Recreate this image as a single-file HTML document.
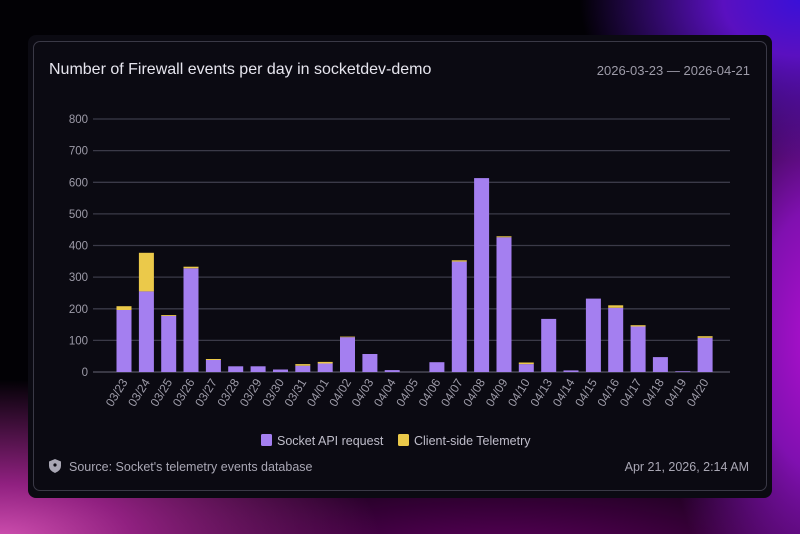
<!DOCTYPE html>
<html><head><meta charset="utf-8"><style>
html,body{margin:0;padding:0;}
body{width:800px;height:534px;overflow:hidden;position:relative;font-family:"Liberation Sans",sans-serif;
background:
radial-gradient(ellipse 220px 160px at 800px 0px,#3a10d8 0%,#5a10c0 35%,rgba(80,0,160,0) 100%),
radial-gradient(ellipse 160px 330px at 820px 340px,#b010d0 0%,#8010b0 40%,rgba(100,0,150,0) 100%),
radial-gradient(ellipse 380px 160px at 0px 540px,#d050b0 0%,#902080 35%,rgba(60,0,60,0) 100%),
radial-gradient(ellipse 500px 120px at 500px 560px,#600060 0%,rgba(40,0,40,0) 100%),
#020105;}
.card{position:absolute;left:28px;top:35px;width:744px;height:463px;background:#0b0a12;border-radius:8px;}
.inner{position:absolute;left:33px;top:41px;width:734px;height:450px;border:1.5px solid #3a3946;border-radius:7px;box-sizing:border-box;}
.t{position:absolute;color:#e6e5ee;}
</style></head><body>
<div class="card"></div>
<div class="inner"></div>
<div class="t" style="left:49px;top:61px;font-size:16px;">Number of Firewall events per day in socketdev-demo</div>
<div class="t" style="right:50px;top:63px;font-size:13px;color:#9d9ba8;">2026-03-23 — 2026-04-21</div>
<svg width="800" height="534" style="position:absolute;left:0;top:0" font-family="Liberation Sans, sans-serif">
<g stroke="#3b3a48" stroke-width="1.3">
<line x1="93" x2="730" y1="119" y2="119"/><line x1="93" x2="730" y1="150.6" y2="150.6"/>
<line x1="93" x2="730" y1="182.3" y2="182.3"/><line x1="93" x2="730" y1="213.9" y2="213.9"/>
<line x1="93" x2="730" y1="245.5" y2="245.5"/><line x1="93" x2="730" y1="277.1" y2="277.1"/>
<line x1="93" x2="730" y1="308.8" y2="308.8"/><line x1="93" x2="730" y1="340.4" y2="340.4"/>
<line x1="93" x2="730" y1="372" y2="372" stroke="#555462"/>
</g>
<g fill="#9d9ba8" font-size="11.5" text-anchor="end">
<text x="88" y="123">800</text><text x="88" y="154.6">700</text><text x="88" y="186.3">600</text>
<text x="88" y="217.9">500</text><text x="88" y="249.5">400</text><text x="88" y="281.1">300</text>
<text x="88" y="312.8">200</text><text x="88" y="344.4">100</text><text x="88" y="376">0</text>
</g>
<g fill="#a47ff0">
<rect x="116.5" y="310" width="15" height="62"/>
<rect x="138.9" y="291.4" width="15" height="80.6"/>
<rect x="161.2" y="316" width="15" height="56"/>
<rect x="183.5" y="268.3" width="15" height="103.7"/>
<rect x="205.9" y="360" width="15" height="12"/>
<rect x="228.2" y="366.3" width="15" height="5.7"/>
<rect x="250.6" y="366.3" width="15" height="5.7"/>
<rect x="273" y="369.5" width="15" height="2.5"/>
<rect x="295.3" y="365.7" width="15" height="6.3"/>
<rect x="317.7" y="363.5" width="15" height="8.5"/>
<rect x="340" y="337.2" width="15" height="34.8"/>
<rect x="362.4" y="354" width="15" height="18"/>
<rect x="384.7" y="370.1" width="15" height="1.9"/>
<rect x="429.4" y="362.2" width="15" height="9.8"/>
<rect x="451.8" y="261.6" width="15" height="110.4"/>
<rect x="474.1" y="178.1" width="15" height="193.9"/>
<rect x="496.5" y="237.3" width="15" height="134.7"/>
<rect x="518.8" y="364.1" width="15" height="7.9"/>
<rect x="541.2" y="318.9" width="15" height="53.1"/>
<rect x="563.5" y="370.4" width="15" height="1.6"/>
<rect x="585.9" y="298.6" width="15" height="73.4"/>
<rect x="608.2" y="307.8" width="15" height="64.2"/>
<rect x="630.6" y="326.5" width="15" height="45.5"/>
<rect x="652.9" y="357.1" width="15" height="14.9"/>
<rect x="675.3" y="371.3" width="15" height="0.7"/>
<rect x="697.6" y="337.8" width="15" height="34.2"/>
</g>
<g fill="#ebc94a">
<rect x="116.5" y="306.2" width="15" height="3.8"/>
<rect x="138.9" y="252.8" width="15" height="38.6"/>
<rect x="161.2" y="315.1" width="15" height="0.9"/>
<rect x="183.5" y="266.7" width="15" height="1.6"/>
<rect x="205.9" y="359" width="15" height="1"/>
<rect x="295.3" y="364.1" width="15" height="1.6"/>
<rect x="317.7" y="361.9" width="15" height="1.6"/>
<rect x="340" y="336.6" width="15" height="0.6"/>
<rect x="451.8" y="260.3" width="15" height="1.3"/>
<rect x="496.5" y="236.3" width="15" height="1"/>
<rect x="518.8" y="362.5" width="15" height="1.6"/>
<rect x="608.2" y="305.3" width="15" height="2.5"/>
<rect x="630.6" y="325.2" width="15" height="1.3"/>
<rect x="697.6" y="336.2" width="15" height="1.6"/>
</g>
<g fill="#9d9ba8" font-size="12" text-anchor="end">
<text transform="translate(128,382) rotate(-58)">03/23</text>
<text transform="translate(150.4,382) rotate(-58)">03/24</text>
<text transform="translate(172.7,382) rotate(-58)">03/25</text>
<text transform="translate(195,382) rotate(-58)">03/26</text>
<text transform="translate(217.4,382) rotate(-58)">03/27</text>
<text transform="translate(239.7,382) rotate(-58)">03/28</text>
<text transform="translate(262.1,382) rotate(-58)">03/29</text>
<text transform="translate(284.5,382) rotate(-58)">03/30</text>
<text transform="translate(306.8,382) rotate(-58)">03/31</text>
<text transform="translate(329.2,382) rotate(-58)">04/01</text>
<text transform="translate(351.5,382) rotate(-58)">04/02</text>
<text transform="translate(373.9,382) rotate(-58)">04/03</text>
<text transform="translate(396.2,382) rotate(-58)">04/04</text>
<text transform="translate(418.6,382) rotate(-58)">04/05</text>
<text transform="translate(440.9,382) rotate(-58)">04/06</text>
<text transform="translate(463.3,382) rotate(-58)">04/07</text>
<text transform="translate(485.6,382) rotate(-58)">04/08</text>
<text transform="translate(508,382) rotate(-58)">04/09</text>
<text transform="translate(530.3,382) rotate(-58)">04/10</text>
<text transform="translate(552.7,382) rotate(-58)">04/13</text>
<text transform="translate(575,382) rotate(-58)">04/14</text>
<text transform="translate(597.4,382) rotate(-58)">04/15</text>
<text transform="translate(619.7,382) rotate(-58)">04/16</text>
<text transform="translate(642.1,382) rotate(-58)">04/17</text>
<text transform="translate(664.4,382) rotate(-58)">04/18</text>
<text transform="translate(686.8,382) rotate(-58)">04/19</text>
<text transform="translate(709.1,382) rotate(-58)">04/20</text>
</g>
<rect x="261" y="434" width="11" height="12" rx="1.5" fill="#a47ff0"/>
<text x="277" y="445" font-size="12.5" fill="#bfbdca">Socket API request</text>
<rect x="398" y="434" width="11" height="12" rx="1.5" fill="#ebc94a"/>
<text x="414" y="445" font-size="12.5" fill="#bfbdca">Client-side Telemetry</text>
<path d="M55 459 L61 461.5 L61 466 Q61 470.5 55 473 Q49 470.5 49 466 L49 461.5 Z" fill="#a9a7b4"/>
<circle cx="55" cy="465" r="1.6" fill="#0b0a12"/>
<text x="69" y="471" font-size="12.5" fill="#a9a7b4">Source: Socket's telemetry events database</text>
<text x="749" y="471" font-size="12.5" fill="#a9a7b4" text-anchor="end">Apr 21, 2026, 2:14 AM</text>
</svg>
</body></html>
